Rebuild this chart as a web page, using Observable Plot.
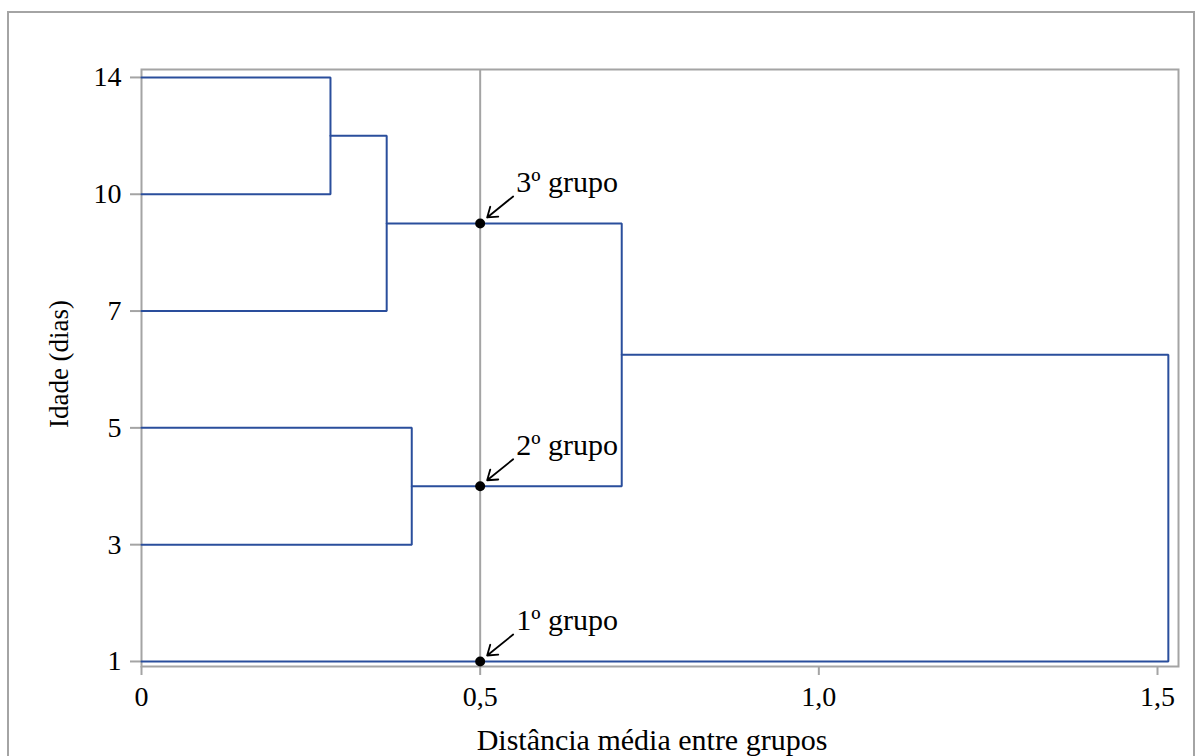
<!DOCTYPE html>
<html>
<head>
<meta charset="utf-8">
<script src="https://cdn.jsdelivr.net/npm/d3@7"></script>
<script src="https://cdn.jsdelivr.net/npm/@observablehq/plot@0.6"></script>
<style>
  body { margin: 0; background: #fff; }
  #outer { position: absolute; left: 7px; top: 11px; width: 1184px; height: 800px; border: 2px solid #a4a4a4; }
  #chart { position: absolute; left: 0; top: 0; }
  #chart svg, #chart svg text { font-family: "Liberation Serif", "Times New Roman", "DejaVu Serif", serif !important; }
</style>
</head>
<body>
<div id="outer"></div>
<div id="chart"></div>
<script>
// Leaves (Idade em dias), from top to bottom
const leafLabels = ["14", "10", "7", "5", "3", "1"];
// Agglomeration steps (average linkage)
const mergeName   = ["A", "B", "C", "D", "E"];
const mergeA      = ["14", "A", "5", "B", "D"];
const mergeB      = ["10", "7", "3", "C", "1"];
const mergeHeight = [0.279, 0.362, 0.399, 0.709, 1.516];
// Cut at distance 0.5 and resulting groups
const cutDistance = 0.5;
const groupNode  = ["1", "C", "B"];
const groupLabel = ["1º grupo", "2º grupo", "3º grupo"];
// X axis ticks
const xTicks = [0, 0.5, 1.0, 1.5];

const W = 1195, H = 756;
const mL = 141, mR = 17, mT = 69, mB = 90;
const xDomain = [0, 1.531];
const yDomain = [-0.043, 5.068];
const pxX = (W - mL - mR) / (xDomain[1] - xDomain[0]);
const pxY = (H - mT - mB) / (yDomain[1] - yDomain[0]);

// dendrogram layout
const nodes = {};
leafLabels.forEach((l, i) => nodes[l] = {y: leafLabels.length - 1 - i, h: 0});
const segs = [];
mergeName.forEach((n, i) => {
  const a = nodes[mergeA[i]], b = nodes[mergeB[i]], h = mergeHeight[i];
  nodes[n] = {y: (a.y + b.y) / 2, h};
  segs.push({id: n, h: a.h, y: a.y}, {id: n, h: h, y: a.y}, {id: n, h: h, y: b.y}, {id: n, h: b.h, y: b.y});
});
const groups = groupNode.map((g, i) => ({x: cutDistance, y: nodes[g].y, label: groupLabel[i]}));

const fmtX = d => d === 0 ? "0" : d.toFixed(1).replace(".", ",");
const gray = "#a4a4a4";
const blue = "#2a4e9c";

const chart = Plot.plot({
  width: W, height: H,
  marginLeft: mL, marginRight: mR, marginTop: mT, marginBottom: mB,
  style: {fontSize: "28px", color: "black", background: "transparent"},
  x: {domain: xDomain},
  y: {domain: yDomain},
  marks: [
    Plot.frame({stroke: gray, strokeWidth: 2}),
    Plot.ruleX([cutDistance], {stroke: gray, strokeWidth: 2}),
    Plot.axisX(xTicks, {tickSize: 9, tickPadding: 11, tickFormat: fmtX, stroke: gray, strokeWidth: 2, fill: "black", label: null, fontSize: 28}),
    Plot.axisY(d3.range(leafLabels.length), {tickSize: 11, tickPadding: 9, tickFormat: d => leafLabels[leafLabels.length - 1 - d], stroke: gray, strokeWidth: 2, fill: "black", label: null, fontSize: 28}),
    Plot.line(segs, {x: "h", y: "y", z: "id", stroke: blue, strokeWidth: 2, strokeLinejoin: "miter"}),
    Plot.dot(groups, {x: "x", y: "y", r: 5, fill: "black"}),
    Plot.arrow(groups, {
      x1: d => d.x + 33 / pxX, y1: d => d.y + 27 / pxY,
      x2: d => d.x + 7 / pxX, y2: d => d.y + 6 / pxY,
      stroke: "black", strokeWidth: 1.8, headLength: 11, headAngle: 70
    }),
    Plot.text(groups, {x: "x", y: "y", text: "label", dx: 36, dy: -41, textAnchor: "start", lineAnchor: "middle", fontSize: 30, fill: "black"}),
    Plot.text(["Distância média entre grupos"], {frameAnchor: "bottom", dx: -8, dy: 74, textAnchor: "middle", lineAnchor: "middle", fontSize: 30, fill: "black"}),
    Plot.text(["Idade (dias)"], {frameAnchor: "left", dx: -82, dy: -4, rotate: -90, textAnchor: "middle", lineAnchor: "middle", fontSize: 27, fill: "black"})
  ]
});
document.getElementById("chart").appendChild(chart);
</script>
</body>
</html>
